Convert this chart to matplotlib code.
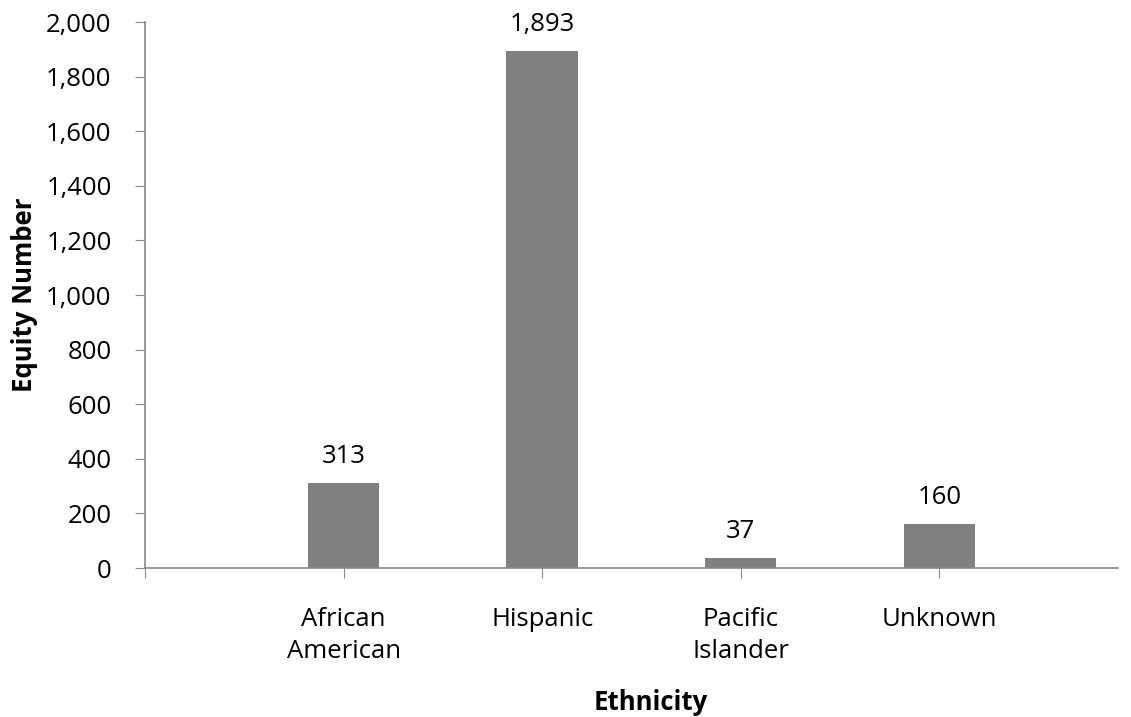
import numpy as np
import matplotlib.pyplot as plt
from matplotlib.ticker import FuncFormatter

plt.rcParams['font.family'] = ['Open Sans', 'DejaVu Sans']

# data (first slot is an empty category, as in the original sheet)
categories = ['', 'African\nAmerican', 'Hispanic', 'Pacific\nIslander', 'Unknown']
values = [0, 313, 1893, 37, 160]
value_labels = ['', '313', '1,893', '37', '160']

fs = 18.5
fig = plt.figure(figsize=(11.31, 7.17), dpi=100)
ax = fig.add_axes([0.1282, 0.2078, 0.8603, 0.7615])

x = np.arange(len(categories))
ax.bar(x[1:], values[1:], width=0.36, color='#808080')
for xi, v, lab in zip(x, values, value_labels):
    if lab:
        ax.annotate(lab, (xi, v), xytext=(0, 10), textcoords='offset points',
                    ha='center', va='bottom', fontsize=fs, color='black')

ax.set_xlim(0, 4.9)
ax.set_ylim(0, 2000)
ax.set_yticks(np.arange(0, 2001, 200))
ax.yaxis.set_major_formatter(FuncFormatter(lambda v, p: f'{int(v):,}'))
ax.set_xticks(x)
ax.set_xticklabels(categories, fontsize=fs, linespacing=1.35)
ax.tick_params(axis='y', labelsize=fs, length=7, color='#888888', pad=17)
ax.tick_params(axis='x', length=7, color='#888888', pad=21)

for s in ['top', 'right']:
    ax.spines[s].set_visible(False)
for s in ['left', 'bottom']:
    ax.spines[s].set_color('#888888')
    ax.spines[s].set_linewidth(1.2)

ax.set_xlabel('Ethnicity', fontsize=fs, fontweight='bold')
ax.set_ylabel('Equity Number', fontsize=fs, fontweight='bold')
ax.xaxis.set_label_coords(0.52, -0.222)
ax.yaxis.set_label_coords(-0.11, 0.5)

fig.savefig('out.png', dpi=100)
